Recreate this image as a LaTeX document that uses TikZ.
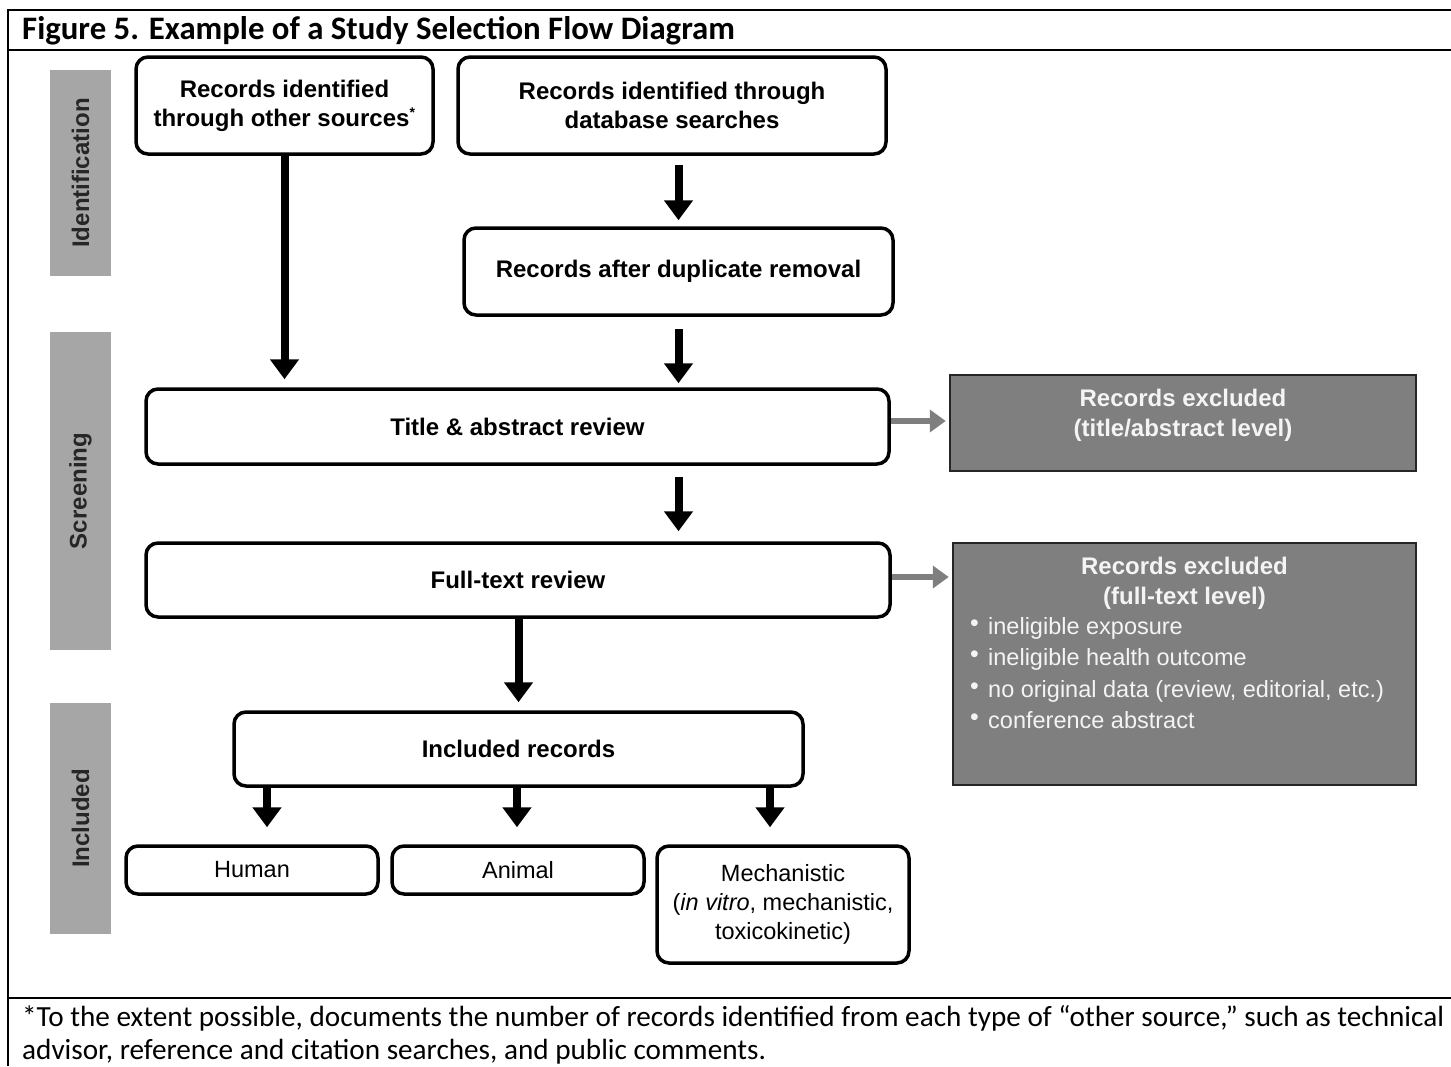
\documentclass[tikz,border=0pt]{standalone}
\usepackage{fontspec}
\setmainfont{Liberation Sans}
\newfontfamily\calibri{Carlito}
\usetikzlibrary{arrows.meta}
\definecolor{bandgray}{HTML}{A6A6A6}
\definecolor{exgray}{HTML}{7F7F7F}
\definecolor{exborder}{HTML}{262626}
\definecolor{labeltext}{HTML}{262626}
\definecolor{extext}{HTML}{F4F4F4}
\newcommand{\mybul}{\makebox[18pt][l]{\raisebox{3pt}{\fontsize{25}{25}\selectfont •}}}
\begin{document}
\begin{tikzpicture}[x=1pt,y=-1pt,
  frameline/.style={line width=2pt, black},
  band/.style={fill=bandgray, draw=none, minimum width=61pt, inner sep=0pt},
  bandtext/.style={rotate=90, text=labeltext, font=\fontsize{24}{28}\selectfont\bfseries},
  flowbox/.style={draw=black, line width=3.5pt, rounded corners=12pt, fill=white, inner sep=0pt, align=center, font=\fontsize{24}{29}\selectfont\bfseries},
  leafbox/.style={flowbox, font=\fontsize{23.5}{29}\selectfont},
  exbox/.style={draw=exborder, line width=2.5pt, fill=exgray, inner sep=0pt},
  extxt/.style={text=extext, inner sep=0pt},
  arr/.style={line width=8pt, black, -{Triangle[length=20pt,width=28pt]}},
  garr/.style={line width=6pt, exgray, -{Triangle[length=16pt,width=22pt]}},
]
\useasboundingbox (0,0) rectangle (1451,1066);
\fill[white] (0,0) rectangle (1451,1066);

% frame
\draw[frameline] (8,1066) -- (8,10) -- (1451,10);
\draw[frameline] (8,50) -- (1451,50);
\draw[frameline] (8,998) -- (1451,998);

\node[anchor=west, inner sep=0pt, font=\calibri\fontsize{32.8}{38}\selectfont\bfseries] (fig) at (22,31) {Figure 5. Example of a Study Selection Flow Diagram};

% bands
\node[band, minimum height=206pt] (bid) at (80.5,173) {};
\node[bandtext] (bidt) at (bid.center) {Identification};
\node[band, minimum height=318pt] (bsc) at (80.5,491) {};
\node[bandtext] (bsct) at (bsc.center) {Screening};
\node[band, minimum height=231pt] (bin) at (80.5,818.5) {};
\node[bandtext] (bint) at (bin.center) {Included};

% flow boxes
\node[flowbox, minimum width=297pt, minimum height=97pt] (other) at (284.5,105.5) {Records identified\\through other sources\textsuperscript{\fontsize{14}{14}\selectfont *}};
\node[flowbox, minimum width=428pt, minimum height=97pt] (db) at (672,105.5) {Records identified through\\database searches};
\node[flowbox, minimum width=429pt, minimum height=87pt] (dup) at (678.5,271.5) {Records after duplicate removal};
\node[flowbox, minimum width=743pt, minimum height=75pt] (title) at (517.5,426.5) {Title \& abstract review};
\node[flowbox, minimum width=744pt, minimum height=74pt] (full) at (518,580) {Full-text review};
\node[flowbox, minimum width=569pt, minimum height=74pt] (incl) at (518.5,749) {Included records};
\node[leafbox, minimum width=252pt, minimum height=48pt] (human) at (252,870) {Human};
\node[leafbox, minimum width=252pt, minimum height=48pt] (animal) at (518,870) {Animal};
\node[leafbox, minimum width=252pt, minimum height=117pt] (mech) at (783,904.5) {Mechanistic\\(\textit{in vitro}, mechanistic,\\toxicokinetic)};

% excluded boxes
\node[exbox, minimum width=466pt, minimum height=96pt] (ex1) at (1183,423) {};
\node[extxt, anchor=north, align=center, font=\fontsize{24}{30}\selectfont\bfseries] (ex1t) at (1183,389) {Records excluded\\(title/abstract level)};
\node[exbox, minimum width=463pt, minimum height=242pt] (ex2) at (1184.5,664) {};
\node[extxt, anchor=north, align=center, font=\fontsize{24}{30}\selectfont\bfseries] (ex2h) at (1184.5,557) {Records excluded\\(full-text level)};
\node[extxt, anchor=north west, align=left, font=\fontsize{23.5}{31.5}\selectfont] (ex2l) at (970,617) {\mybul ineligible exposure\\\mybul ineligible health outcome\\\mybul no original data (review, editorial, etc.)\\\mybul conference abstract};

% arrows
\draw[arr, shorten <=0pt, shorten >=8pt] (other.south) -- (title.north -| other.south);
\draw[arr, shorten <=9pt, shorten >=6pt] (db.south -| dup.north) -- (dup.north);
\draw[arr, shorten <=12pt, shorten >=4pt] (dup.south) -- (title.north -| dup.south);
\draw[arr, shorten <=11pt, shorten >=10pt] (title.south -| dup.south) -- (full.north -| dup.south);
\draw[arr, shorten >=8pt] (full.south -| incl.north) -- (incl.north);
\draw[arr, shorten >=17pt] (incl.south -| 267,0) -- (human.north -| 267,0);
\draw[arr, shorten >=17pt] (incl.south -| 517,0) -- (animal.north -| 517,0);
\draw[arr, shorten >=17pt] (incl.south -| 770,0) -- (mech.north -| 770,0);
\draw[garr, shorten >=3pt] (title.east |- 0,421) -- (ex1.west |- 0,421);
\draw[garr, shorten >=3pt] (full.east |- 0,577) -- (ex2.west |- 0,577);

% footnote
\node[anchor=north west, align=left, inner sep=0pt, font=\calibri\fontsize{29.2}{33}\selectfont] (foot) at (22,1005) {*To the extent possible, documents the number of records identified from each type of “other source,” such as technical\\advisor, reference and citation searches, and public comments.};
\end{tikzpicture}
\end{document}
